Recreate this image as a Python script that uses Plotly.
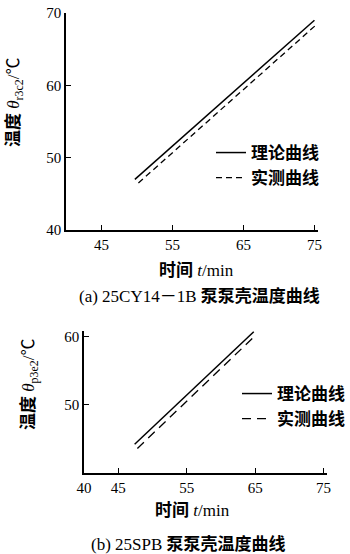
import plotly.graph_objects as go

# ---- data ----
# (a) 25CY14-1B
a_theory_t = [49.7, 75.0]
a_theory_v = [47.0, 69.0]
a_meas_t = [50.2, 75.4]
a_meas_v = [46.5, 68.5]
# (b) 25SPB
b_theory_t = [47.4, 64.8]
b_theory_v = [44.2, 60.7]
b_meas_t = [47.8, 65.2]
b_meas_v = [43.6, 60.3]

x_ticks_a = [45, 55, 65, 75]
y_ticks_a = [40, 50, 60, 70]
x_ticks_b = [40, 45, 55, 65, 75]
y_ticks_b = [50, 60]

legend_names = ["理论曲线", "实测曲线"]

W, H = 350, 554
def px(x):
    return x / W
def py(y):
    return 1 - y / H

CJK = "Liberation Serif, Noto Sans CJK SC"
NUM = "Liberation Serif"

fig = go.Figure()

fig.add_trace(go.Scatter(x=a_theory_t, y=a_theory_v, mode="lines", name="<b>" + legend_names[0] + "</b>",
                         line=dict(color="black", width=1.5), xaxis="x", yaxis="y", legend="legend"))
fig.add_trace(go.Scatter(x=a_meas_t, y=a_meas_v, mode="lines", name="<b>" + legend_names[1] + "</b>",
                         line=dict(color="black", width=1.3, dash="6px,4px"), xaxis="x", yaxis="y", legend="legend"))
fig.add_trace(go.Scatter(x=b_theory_t, y=b_theory_v, mode="lines", name="<b>" + legend_names[0] + "</b>",
                         line=dict(color="black", width=1.5), xaxis="x2", yaxis="y2", legend="legend2"))
fig.add_trace(go.Scatter(x=b_meas_t, y=b_meas_v, mode="lines", name="<b>" + legend_names[1] + "</b>",
                         line=dict(color="black", width=1.3, dash="9px,6px"), xaxis="x2", yaxis="y2", legend="legend2"))

ax_common = dict(showgrid=False, zeroline=False, showline=True, linecolor="black", linewidth=1.5,
                 ticks="inside", ticklen=5, tickwidth=1.3, tickcolor="black", automargin=False,
                 tickfont=dict(family=NUM, size=15, color="black"))

fig.update_layout(
    template="none",
    width=W, height=H, margin=dict(l=0, r=0, t=0, b=0, autoexpand=False),
    paper_bgcolor="white", plot_bgcolor="white",
    xaxis=dict(domain=[px(66), px(318)], range=[40, 75.5], tickvals=x_ticks_a, anchor="y", **ax_common),
    yaxis=dict(domain=[py(230), py(13)], range=[40, 70], tickvals=y_ticks_a, anchor="x", **ax_common),
    xaxis2=dict(domain=[px(84), px(327)], range=[40, 75.5], tickvals=x_ticks_b, anchor="y2", **ax_common),
    yaxis2=dict(domain=[py(473), py(331)], range=[40, 60.8], tickvals=y_ticks_b, anchor="x2", **ax_common),
    legend=dict(x=px(211), y=py(135), xanchor="left", yanchor="top", bgcolor="rgba(0,0,0,0)",
                font=dict(family=CJK, size=17, color="black"), tracegroupgap=0, itemwidth=30),
    legend2=dict(x=px(237), y=py(376), xanchor="left", yanchor="top", bgcolor="rgba(0,0,0,0)",
                 font=dict(family=CJK, size=17, color="black"), tracegroupgap=0, itemwidth=30),
    showlegend=True,
)

ann = [
    dict(text="<b>温度</b> <i>θ</i><sub>r3c2</sub>/℃", x=px(15), y=py(103), textangle=-90, size=17),
    dict(text="<b>时间</b> <i>t</i>/min", x=px(196), y=py(270), textangle=0, size=17),
    dict(text="(a) 25CY14－1B <b>泵泵壳温度曲线</b>", x=px(199), y=py(296), textangle=0, size=17),
    dict(text="<b>温度</b> <i>θ</i><sub>p3e2</sub>/℃", x=px(30), y=py(385), textangle=-90, size=17),
    dict(text="<b>时间</b> <i>t</i>/min", x=px(193), y=py(510), textangle=0, size=17),
    dict(text="(b) 25SPB <b>泵泵壳温度曲线</b>", x=px(188), y=py(544), textangle=0, size=17),
]
for a in ann:
    fig.add_annotation(text=a["text"], x=a["x"], y=a["y"], xref="paper", yref="paper",
                       showarrow=False, textangle=a["textangle"], xanchor="center", yanchor="middle",
                       font=dict(family=CJK, size=a["size"], color="black"))

fig.write_html("out.html", config={"displayModeBar": False},
               post_script="document.body.style.margin='0';document.body.style.overflow='hidden';")
